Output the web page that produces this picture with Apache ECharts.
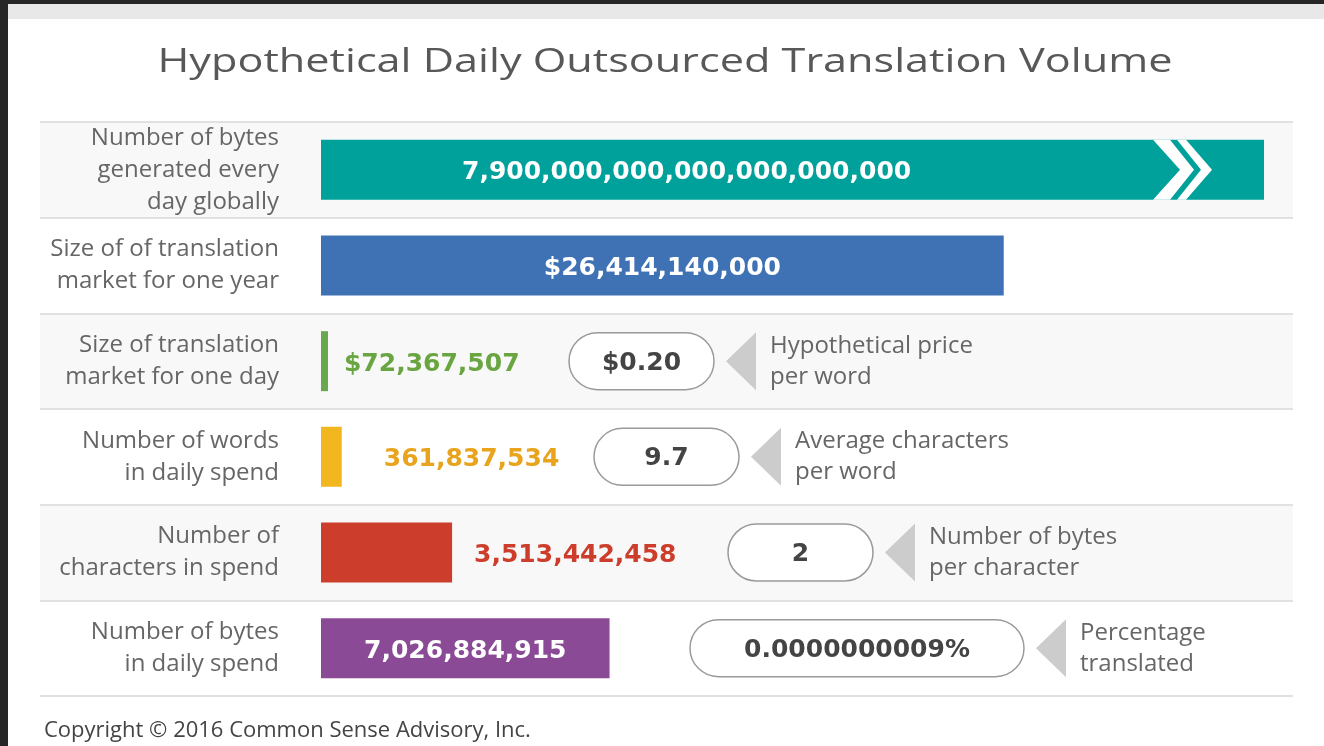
<!DOCTYPE html>
<html>
<head>
<meta charset="utf-8">
<title>Hypothetical Daily Outsourced Translation Volume</title>
<script src="https://cdn.jsdelivr.net/npm/echarts@6/dist/echarts.min.js"></script>
<style>
html,body{margin:0;padding:0;background:#fff;}
#main{width:1324px;height:746px;}
</style>
</head>
<body>
<div id="main"></div>
<script>
// rows, top to bottom
var rowLabels = [
  'Number of bytes\ngenerated every\nday globally',
  'Size of of translation\nmarket for one year',
  'Size of translation\nmarket for one day',
  'Number of words\nin daily spend',
  'Number of\ncharacters in spend',
  'Number of bytes\nin daily spend'
];
var valueText = [
  '7,900,000,000,000,000,000,000',
  '$26,414,140,000',
  '$72,367,507',
  '361,837,534',
  '3,513,442,458',
  '7,026,884,915'
];
// bar length as drawn in the picture (illustrative scale, not to value; longest = 100)
var barLength = [100, 72.4, 0.74, 2.2, 13.9, 30.6];

// multipliers between rows
var factorRows = [2, 3, 4, 5];
var factorValues = ['$0.20', '9.7', '2', '0.0000000009%'];
var factorNotes = [
  'Hypothetical price\nper word',
  'Average characters\nper word',
  'Number of bytes\nper character',
  'Percentage\ntranslated'
];

var titleText = 'Hypothetical Daily Outsourced Translation Volume';
var footText = 'Copyright \u00a9 2016 Common Sense Advisory, Inc.';

// ---- layout / styles ----
var GL = 40, GR = 1293, X0 = 321, X100 = 1264;
var unit = (X100 - X0) / 100;
var barColors = ['#00a19a', '#3e72b4', '#6aa84f', '#f2b61f', '#cc3e2b', '#8b4a96'];
var labelSet = [
  {position: 'insideLeft', distance: 141, color: '#fff'},
  {position: 'inside', color: '#fff'},
  {position: 'right', distance: 16, color: '#69a540'},
  {position: 'right', distance: 42, color: '#e9a41e'},
  {position: 'right', distance: 22, color: '#cc3e2b'},
  {position: 'inside', color: '#fff'}
];
// pill offset from bar start and pill width
var pillLay = [{dx: 248, w: 145}, {dx: 273, w: 145}, {dx: 407, w: 145}, {dx: 369, w: 334}];
var boldFont = 'bold 25px "DejaVu Sans"';

function fitScale(text, font, width) {
  var ctx = document.createElement('canvas').getContext('2d');
  ctx.font = font;
  return width / ctx.measureText(text).width;
}

var barData = barLength.map(function (v, i) {
  var l = labelSet[i];
  return {
    value: v,
    itemStyle: {color: barColors[i]},
    label: {
      show: true,
      position: l.position,
      distance: l.distance || 5,
      offset: [0, 3],
      color: l.color,
      formatter: valueText[i]
    }
  };
});

var option = {
  animation: false,
  backgroundColor: '#ffffff',
  grid: {left: GL, right: 1324 - GR, top: 122, bottom: 50},
  xAxis: {
    type: 'value',
    min: -(X0 - GL) / unit,
    max: (GR - X0) / unit,
    show: false
  },
  yAxis: {
    type: 'category',
    inverse: true,
    data: rowLabels,
    offset: -(279 + 8 - GL),
    axisLine: {show: false},
    axisTick: {show: false},
    axisLabel: {
      margin: 8,
      align: 'right',
      fontFamily: 'Open Sans',
      fontSize: 24,
      lineHeight: 32,
      color: '#666'
    },
    splitLine: {show: true, lineStyle: {color: '#e1e1e1', width: 2}},
    splitArea: {show: true, areaStyle: {color: ['#f8f8f8', '#ffffff']}}
  },
  series: [
    {
      type: 'bar',
      barWidth: 60,
      data: barData,
      label: {fontFamily: 'DejaVu Sans', fontWeight: 'bold', fontSize: 25},
      z: 2
    },
    {
      // double chevron cut into the first bar
      type: 'custom',
      z: 3,
      data: [[barLength[0], 0]],
      renderItem: function (params, api) {
        var p = api.coord([api.value(0), api.value(1)]);
        var E = p[0], M = p[1], T = M - 30, B = M + 30;
        function pts(a, b, c, d) {
          return [[E + a, T], [E + b, T], [E + c, M], [E + b, B], [E + a, B], [E + d, M]];
        }
        return {
          type: 'group',
          children: [
            {type: 'polygon', shape: {points: pts(-111, -94, -70, -84)}, style: {fill: '#fff'}},
            {type: 'polygon', shape: {points: pts(-87, -78, -52, -63)}, style: {fill: '#fff'}}
          ]
        };
      }
    },
    {
      // pills, arrows and notes
      type: 'custom',
      z: 3,
      data: factorRows.map(function (r) { return [0, r]; }),
      renderItem: function (params, api) {
        var i = params.dataIndex;
        var p = api.coord([api.value(0), api.value(1)]);
        var L = pillLay[i];
        var x = p[0] + L.dx, y = p[1], h = 57;
        var tx = x + L.w + 12;
        return {
          type: 'group',
          children: [
            {type: 'rect', shape: {x: x, y: y - h / 2, width: L.w, height: h, r: h / 2},
             style: {fill: '#fff', stroke: '#9a9a9a', lineWidth: 1.5}},
            {type: 'text', style: {x: x + L.w / 2, y: y + 2, text: factorValues[i], align: 'center',
             verticalAlign: 'middle', font: boldFont, fill: '#444'}},
            {type: 'polygon', shape: {points: [[tx, y], [tx + 30, y - 29], [tx + 30, y + 29]]},
             style: {fill: '#cccccc'}},
            {type: 'text', style: {x: tx + 44, y: y, text: factorNotes[i], align: 'left',
             verticalAlign: 'middle', font: '24px "Open Sans"', lineHeight: 31, fill: '#666'}}
          ]
        };
      }
    }
  ],
  graphic: [
    {type: 'rect', shape: {x: 0, y: 0, width: 1324, height: 4}, style: {fill: '#262626'}, z: 10},
    {type: 'rect', shape: {x: 8, y: 4, width: 1316, height: 15}, style: {fill: '#e8e8e8'}, z: 10},
    {type: 'rect', shape: {x: 0, y: 0, width: 8, height: 746}, style: {fill: '#262626'}, z: 10},
    {
      type: 'text', x: 665, y: 63,
      scaleX: fitScale(titleText, '32px "Open Sans"', 1015),
      style: {text: titleText, x: 0, y: 0, align: 'center', verticalAlign: 'middle',
              font: '32px "Open Sans"', fill: '#585858'}
    },
    {
      type: 'text', x: 44, y: 731,
      style: {text: footText, x: 0, y: 0, align: 'left', verticalAlign: 'middle',
              font: '22px "Open Sans"', fill: '#444'}
    }
  ]
};

var myChart = echarts.init(document.getElementById('main'));
myChart.setOption(option);
</script>
</body>
</html>
